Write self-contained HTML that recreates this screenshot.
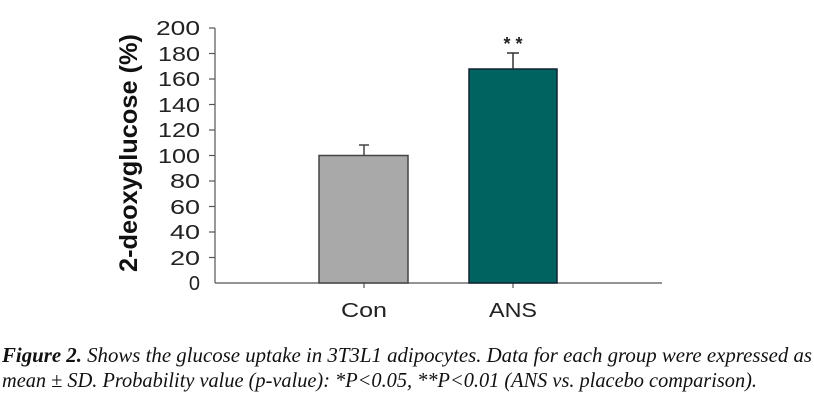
<!DOCTYPE html>
<html><head><meta charset="utf-8"><style>
html,body{margin:0;padding:0;background:#fff;width:814px;height:402px;overflow:hidden}
</style></head><body>
<svg width="814" height="402" xmlns="http://www.w3.org/2000/svg">
<g font-family="Liberation Sans, sans-serif" font-size="20" fill="#222" text-anchor="end">
<text x="200" y="35" textLength="44" lengthAdjust="spacingAndGlyphs">200</text>
<text x="200" y="61" textLength="42" lengthAdjust="spacingAndGlyphs">180</text>
<text x="200" y="86" textLength="42" lengthAdjust="spacingAndGlyphs">160</text>
<text x="200" y="112" textLength="42" lengthAdjust="spacingAndGlyphs">140</text>
<text x="200" y="137" textLength="42" lengthAdjust="spacingAndGlyphs">120</text>
<text x="200" y="163" textLength="42" lengthAdjust="spacingAndGlyphs">100</text>
<text x="200" y="188" textLength="30" lengthAdjust="spacingAndGlyphs">80</text>
<text x="200" y="214" textLength="30" lengthAdjust="spacingAndGlyphs">60</text>
<text x="200" y="239" textLength="30" lengthAdjust="spacingAndGlyphs">40</text>
<text x="200" y="265" textLength="30" lengthAdjust="spacingAndGlyphs">20</text>
<text x="200" y="290">0</text>
</g>
<text transform="translate(137,153) rotate(-90)" font-family="Liberation Sans, sans-serif" font-weight="bold" font-size="25" text-anchor="middle" fill="#111" textLength="238" lengthAdjust="spacingAndGlyphs">2-deoxyglucose (%)</text>
<g stroke="#555" stroke-width="1.2" fill="none">
<line x1="215" y1="28" x2="215" y2="283"/>
<line x1="215" y1="283" x2="662" y2="283"/>
<line x1="209" y1="28" x2="215" y2="28"/><line x1="209" y1="53.5" x2="215" y2="53.5"/>
<line x1="209" y1="79" x2="215" y2="79"/><line x1="209" y1="104.5" x2="215" y2="104.5"/>
<line x1="209" y1="130" x2="215" y2="130"/><line x1="209" y1="155.5" x2="215" y2="155.5"/>
<line x1="209" y1="181" x2="215" y2="181"/><line x1="209" y1="206.5" x2="215" y2="206.5"/>
<line x1="209" y1="232" x2="215" y2="232"/><line x1="209" y1="257.5" x2="215" y2="257.5"/>
<line x1="364" y1="283" x2="364" y2="288"/><line x1="513" y1="283" x2="513" y2="288"/>
</g>
<rect x="319" y="155.5" width="89" height="127.5" fill="#a9a9a9" stroke="#444" stroke-width="1.5"/>
<line x1="364" y1="155.5" x2="364" y2="145" stroke="#444" stroke-width="1.5"/>
<line x1="359" y1="145" x2="369" y2="145" stroke="#444" stroke-width="1.5"/>
<rect x="469" y="69" width="88" height="214" fill="#006360" stroke="#123" stroke-width="1.5"/>
<line x1="513" y1="69" x2="513" y2="53" stroke="#333" stroke-width="1.5"/>
<line x1="507" y1="53" x2="519" y2="53" stroke="#333" stroke-width="1.5"/>
<text x="513" y="50" font-family="Liberation Sans, sans-serif" font-size="18" font-weight="bold" text-anchor="middle" fill="#222">* *</text>
<g font-family="Liberation Sans, sans-serif" font-size="20" fill="#222" text-anchor="middle">
<text x="364" y="317" textLength="46" lengthAdjust="spacingAndGlyphs">Con</text>
<text x="513" y="317" textLength="48" lengthAdjust="spacingAndGlyphs">ANS</text>
</g>
<g font-family="Liberation Serif, serif" font-style="italic" font-size="21" fill="#111">
<text x="2" y="362" textLength="810" lengthAdjust="spacingAndGlyphs"><tspan font-weight="bold">Figure 2.</tspan> Shows the glucose uptake in 3T3L1 adipocytes. Data for each group were expressed as</text>
<text x="2" y="387" textLength="755" lengthAdjust="spacingAndGlyphs">mean ± SD. Probability value (p-value): *P&lt;0.05, **P&lt;0.01 (ANS vs. placebo comparison).</text>
</g>
</svg>
</body></html>
